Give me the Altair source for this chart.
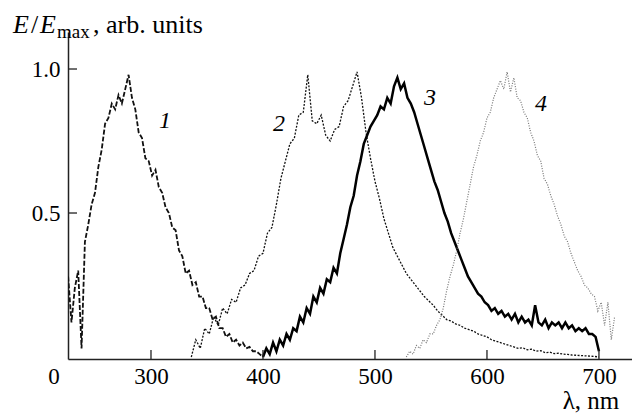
import altair as alt
import pandas as pd

# ---------------- data ----------------
c1_wl = list(range(226, 401, 3))
c1_val = [0.28, 0.12, 0.24, 0.30, 0.03, 0.40, 0.46, 0.53, 0.57, 0.66,
          0.72, 0.81, 0.83, 0.88, 0.86, 0.91, 0.88, 0.93, 0.98, 0.90,
          0.86, 0.78, 0.76, 0.69, 0.68, 0.63, 0.65, 0.59, 0.57, 0.52,
          0.50, 0.45, 0.44, 0.37, 0.35, 0.29, 0.30, 0.25, 0.26, 0.21,
          0.21, 0.17, 0.17, 0.13, 0.14, 0.10, 0.10, 0.07, 0.08, 0.05,
          0.06, 0.04, 0.05, 0.03, 0.035, 0.02, 0.02, 0.01, 0.0]

c2_wl = list(range(336, 701, 4))
c2_val = [0.00, 0.06, 0.03, 0.10, 0.08, 0.14, 0.11, 0.17, 0.15, 0.20,
          0.19, 0.24, 0.25, 0.29, 0.30, 0.35, 0.36, 0.43, 0.45, 0.53,
          0.62, 0.68, 0.74, 0.76, 0.84, 0.85, 0.98, 0.82, 0.81, 0.84,
          0.77, 0.75, 0.79, 0.80, 0.87, 0.89, 0.94, 0.99, 0.90, 0.78,
          0.69, 0.61,
          0.55, 0.48, 0.43, 0.38, 0.35, 0.32, 0.29, 0.27, 0.25, 0.23,
          0.21, 0.195, 0.18, 0.16, 0.145, 0.13, 0.125, 0.115, 0.11, 0.10,
          0.095, 0.09, 0.08, 0.075, 0.07, 0.06, 0.055, 0.05, 0.045, 0.04,
          0.035, 0.03, 0.032, 0.025, 0.027, 0.02, 0.022, 0.015, 0.017, 0.012,
          0.013, 0.01, 0.009, 0.007, 0.006, 0.005, 0.004, 0.003, 0.002, 0.0]

c3_wl = list(range(400, 701, 3))
c3_val = [0.00, 0.03, 0.01, 0.05, 0.02, 0.06, 0.04, 0.08, 0.06, 0.10,
          0.09, 0.14, 0.12, 0.17, 0.15, 0.21, 0.19, 0.24, 0.22, 0.27,
          0.26, 0.31, 0.29, 0.36, 0.41, 0.46, 0.52, 0.56, 0.63, 0.68,
          0.74, 0.77, 0.80, 0.82, 0.84, 0.87, 0.86, 0.90, 0.88, 0.94,
          0.97, 0.93, 0.95, 0.90, 0.88, 0.85, 0.81, 0.77, 0.73, 0.69,
          0.65, 0.61, 0.58, 0.54, 0.50, 0.47, 0.43, 0.40, 0.37, 0.34,
          0.31, 0.28, 0.26, 0.24, 0.22, 0.21, 0.19, 0.18, 0.16, 0.17,
          0.15, 0.16, 0.14, 0.15, 0.13, 0.15, 0.12, 0.14, 0.12, 0.13,
          0.11, 0.18, 0.12, 0.11, 0.13, 0.10, 0.12, 0.11, 0.12, 0.10,
          0.12, 0.10, 0.11, 0.09, 0.10, 0.09, 0.10, 0.08, 0.08, 0.07,
          0.02]

c4_wl = list(range(528, 715, 3))
c4_val = [0.00, 0.02, 0.01, 0.04, 0.03, 0.06, 0.05, 0.08, 0.08, 0.11,
          0.13, 0.17, 0.23, 0.28, 0.32, 0.37, 0.43, 0.48, 0.54, 0.60,
          0.66, 0.70, 0.75, 0.78, 0.83, 0.85, 0.90, 0.93, 0.96, 0.93,
          0.99, 0.92, 0.97, 0.90, 0.89, 0.85, 0.83, 0.78, 0.75, 0.70,
          0.68, 0.62, 0.60, 0.56, 0.53, 0.49, 0.46, 0.42, 0.40, 0.36,
          0.33, 0.30, 0.28, 0.25, 0.24, 0.22, 0.21, 0.16, 0.19, 0.11,
          0.19, 0.06, 0.14]

curve_names = ["1", "2", "3", "4"]
label_wl = [312.5, 414.3, 549.1, 648.2]
label_val = [0.82, 0.81, 0.90, 0.88]

x_ticks = [300, 400, 500, 600, 700]
y_ticks = [0.5, 1.0]

# ---------------- chart ----------------
FONT = "Liberation Serif, Times New Roman, serif"
W, H = 564, 327
xs = alt.Scale(domain=[225.9, 729.5], nice=False, zero=False)
ys = alt.Scale(domain=[-0.0069, 1.1285], nice=False, zero=False)

x_axis = alt.Axis(values=x_ticks, ticks=False, grid=False, title=None,
                  labelFont=FONT, labelFontSize=23, labelPadding=6,
                  labelColor="black", domainColor="#222", domainWidth=1.5,
                  labelFlush=False)
y_axis = alt.Axis(values=y_ticks, format=".1f", ticks=False, grid=False,
                  title=None, labelFont=FONT, labelFontSize=23,
                  labelPadding=8, labelColor="black", domainColor="#222",
                  domainWidth=1.5)


def curve(wl, val):
    return pd.DataFrame({"wl": wl[:len(val)], "v": val[:len(wl)]})


base_x = alt.X("wl:Q", scale=xs, axis=x_axis)
base_y = alt.Y("v:Q", scale=ys, axis=y_axis)

l1 = alt.Chart(curve(c1_wl, c1_val)).mark_line(
    color="#111", strokeWidth=1.8, strokeDash=[5, 2], clip=True
).encode(x=base_x, y=base_y)
l2 = alt.Chart(curve(c2_wl, c2_val)).mark_line(
    color="#111", strokeWidth=1.3, strokeDash=[2, 1.5], clip=True
).encode(x="wl:Q", y="v:Q")
l3 = alt.Chart(curve(c3_wl, c3_val)).mark_line(
    color="#000", strokeWidth=2.5, clip=True
).encode(x="wl:Q", y="v:Q")
l4 = alt.Chart(curve(c4_wl, c4_val)).mark_line(
    color="#777", strokeWidth=1.2, strokeDash=[1, 1.5], clip=True
).encode(x="wl:Q", y="v:Q")

labels = alt.Chart(pd.DataFrame({"name": curve_names, "wl": label_wl, "v": label_val})).mark_text(
    font=FONT, fontSize=24, fontStyle="italic", baseline="middle", align="center", color="black"
).encode(x="wl:Q", y="v:Q", text="name:N")

xt = alt.Chart(pd.DataFrame({"wl": x_ticks})).mark_rule(color="#222", strokeWidth=1.3).encode(
    x="wl:Q", y=alt.value(H), y2=alt.value(H - 9))
yt = alt.Chart(pd.DataFrame({"v": y_ticks})).mark_rule(color="#222", strokeWidth=1.3).encode(
    y="v:Q", x=alt.value(0), x2=alt.value(9))

one = pd.DataFrame({"a": [0]})


def txt(s, px, py, size, italic=False, align="left"):
    kw = dict(text=s, font=FONT, fontSize=size, align=align, baseline="alphabetic", color="black")
    if italic:
        kw["fontStyle"] = "italic"
    return alt.Chart(one).mark_text(**kw).encode(x=alt.value(px), y=alt.value(py))


title_parts = [
    txt("E", -55, 1, 26, italic=True),
    txt("/", -37, 1, 26),
    txt("E", -28, 1, 26, italic=True),
    txt("max", -11, 6, 19),
    txt(", arb. units", 25, 1, 26),
    txt("λ, nm", 523, 377, 25, align="center"),
    txt("0", -14, 352, 23, align="center"),
]

chart = alt.layer(l1, l2, l3, l4, labels, xt, yt, *title_parts).properties(
    width=W, height=H,
    autosize=alt.AutoSizeParams(type="none"),
    padding={"left": 68, "top": 32, "right": 0, "bottom": 55},
    background="white",
).configure_view(strokeWidth=0)

chart.save("out.html", embed_options={"renderer": "svg", "actions": False})
